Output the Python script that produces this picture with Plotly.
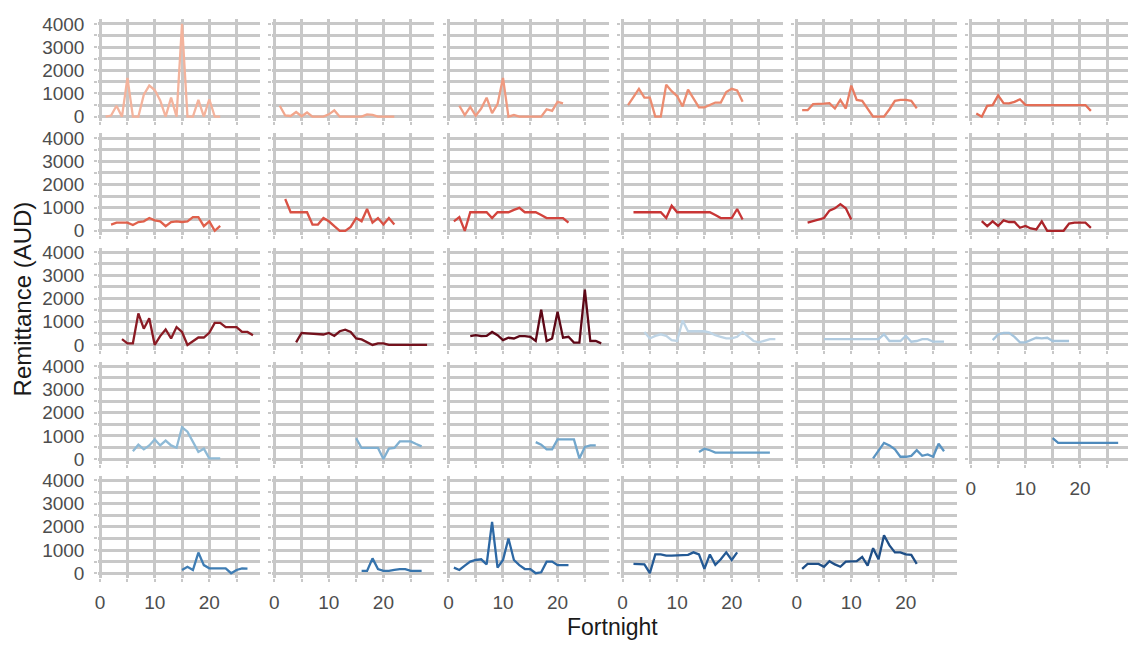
import plotly.graph_objects as go

W, H = 1128, 645

# First fortnight of each panel's series (values run over consecutive fortnights)
starts = [1, 1, 2, 1, 1, 1,
          2, 2, 1, 2, 2, 2,
          4, 4, 4, 4, 5, 4,
          6, 15, 16, 14, 14, 15,
          15, 16, 1, 2, 1]

r01 = [0, 50, 470, 0, 1670, 0, 0, 950, 1340, 1150, 700, 0, 820, 0, 4000, 0, 0, 720, 0, 750, 0, 0]
r02 = [470, 50, 30, 200, 20, 180, 0, 0, 0, 100, 270, 0, 0, 0, 0, 0, 100, 80, 0, 0, 0, 0]
r03 = [470, 70, 420, 40, 350, 820, 150, 540, 1670, 0, 70, 0, 0, 0, 0, 0, 320, 250, 640, 570]
r04 = [500, 860, 1200, 820, 820, 0, 0, 1380, 1100, 890, 440, 1170, 780, 400, 400, 500, 610, 610, 1060, 1200, 1130, 640]
r05 = [280, 280, 540, 540, 560, 580, 350, 720, 350, 1340, 720, 680, 330, 0, 0, 0, 320, 680, 720, 720, 680, 360]
r06 = [140, 0, 470, 500, 920, 580, 570, 640, 750, 510, 500, 500, 500, 500, 500, 500, 500, 500, 500, 500, 500, 250]
r07 = [270, 350, 350, 350, 250, 380, 410, 550, 450, 410, 200, 380, 410, 380, 410, 590, 590, 200, 410, 0, 210]
r08 = [1370, 800, 800, 800, 800, 270, 270, 550, 410, 200, 0, 0, 170, 550, 410, 940, 350, 550, 270, 550, 270]
r09 = [410, 590, 0, 800, 800, 800, 800, 550, 800, 800, 800, 900, 990, 800, 800, 800, 680, 550, 550, 550, 550, 350]
r10 = [800, 800, 800, 800, 800, 800, 550, 1080, 800, 800, 800, 800, 800, 800, 800, 680, 550, 550, 550, 940, 490]
r11 = [350, 420, 480, 550, 870, 970, 1150, 970, 490]
r12 = [420, 200, 410, 210, 450, 380, 380, 130, 210, 100, 60, 410, 0, 0, 0, 0, 310, 350, 350, 350, 130]
r13 = [250, 70, 70, 1360, 700, 1150, 0, 380, 670, 280, 770, 560, 0, 170, 320, 320, 520, 950, 950, 770, 770, 770, 560, 560, 420]
r14 = [110, 520, 500, 490, 470, 450, 520, 390, 590, 660, 560, 280, 240, 110, 0, 70, 70, 0, 0, 0, 0, 0, 0, 0, 0]
r15 = [380, 420, 380, 390, 560, 420, 210, 310, 280, 380, 380, 350, 170, 1520, 170, 280, 1430, 310, 350, 100, 100, 2390, 170, 170, 70]
r16 = [560, 280, 390, 460, 390, 210, 170, 1050, 590, 590, 590, 590, 530, 420, 350, 280, 280, 350, 560, 350, 170, 110, 170, 250, 250]
r17 = [250, 250, 250, 250, 250, 250, 250, 250, 250, 250, 250, 460, 170, 170, 170, 390, 140, 170, 250, 250, 140, 140, 140]
r18 = [210, 450, 520, 520, 350, 110, 110, 210, 310, 280, 310, 170, 170, 140, 170]
r19 = [340, 620, 420, 590, 850, 590, 800, 590, 490, 1370, 1180, 730, 310, 450, 30, 30, 30]
r20 = [900, 480, 480, 480, 480, 0, 450, 480, 760, 760, 760, 650, 550]
r21 = [730, 620, 420, 420, 850, 850, 850, 850, 30, 520, 590, 590]
r22 = [310, 450, 380, 280, 280, 280, 280, 280, 280, 280, 280, 280, 280, 280]
r23 = [30, 380, 700, 590, 420, 100, 100, 140, 380, 140, 200, 100, 660, 340]
r24 = [900, 700, 700, 700, 700, 700, 700, 700, 700, 700, 700, 700, 700]
r25 = [140, 280, 140, 890, 350, 210, 210, 210, 210, 0, 140, 210, 200]
r26 = [100, 100, 640, 180, 100, 100, 140, 180, 180, 100, 100, 100]
r27 = [240, 140, 330, 500, 570, 600, 380, 2210, 240, 570, 1500, 570, 350, 180, 180, 0, 40, 500, 500, 350, 350, 350]
r28 = [400, 400, 380, 0, 810, 810, 760, 760, 760, 790, 790, 900, 810, 190, 810, 360, 600, 900, 570, 900]
r29 = [190, 400, 400, 400, 280, 520, 380, 280, 500, 500, 520, 700, 330, 1080, 600, 1640, 1200, 900, 900, 810, 790, 400]

series = [r01, r02, r03, r04, r05, r06, r07, r08, r09, r10, r11, r12, r13, r14, r15,
          r16, r17, r18, r19, r20, r21, r22, r23, r24, r25, r26, r27, r28, r29]

colors = ["#f4b39c", "#f2a68c", "#ef9a80", "#ec8c70", "#e87d63", "#e46e56",
          "#e0614c", "#d95245", "#d3443d", "#c93636", "#bb2c2f", "#aa2429",
          "#8a1b24", "#74121d", "#5e0716",
          "#bed4e5", "#b0cbe0", "#a5c4dc", "#8fbad6", "#80b0d1", "#73a7cc",
          "#679fc8", "#5a94c2", "#4e8abc", "#3f7db4", "#3674ad", "#2d68a4",
          "#245a95", "#1f4f87"]

y_ticks = [0, 500, 1000, 1500, 2000, 2500, 3000, 3500, 4000]
y_labels = ["0", "", "1000", "", "2000", "", "3000", "", "4000"]
x_ticks = [0, 5, 10, 15, 20, 25]
x_labels = ["0", "", "10", "", "20", ""]

NCOL = 6
XMIN, XMAX = -0.35, 29.35
PW, PH = 162.5, 104.0
X0, XSTEP = 95.5, 174.6
Y0, YSTEP = 13.5, 116.3
GRID = "#c8c8c8"
TICKC = "#4d4d4d"
FONT = "Liberation Sans, Arial, sans-serif"

fig = go.Figure()
layout = dict(
    width=W, height=H,
    margin=dict(l=0, r=0, t=0, b=0),
    paper_bgcolor="white", plot_bgcolor="white",
    showlegend=False,
    font=dict(family=FONT, color=TICKC),
)

n = len(series)
for i, vals in enumerate(series):
    r, c = divmod(i, NCOL)
    k = "" if i == 0 else str(i + 1)
    xs = list(range(starts[i], starts[i] + len(vals)))
    fig.add_trace(go.Scatter(x=xs, y=vals, mode="lines",
                             line=dict(color=colors[i], width=2.3),
                             xaxis="x" + k, yaxis="y" + k, hoverinfo="skip"))
    left = X0 + XSTEP * c
    right = min(left + PW, W)
    xmax = XMIN + (right - left) / PW * (XMAX - XMIN)
    top = Y0 + YSTEP * r
    below_empty = (i + NCOL) >= n
    layout["xaxis" + k] = dict(
        domain=[left / W, right / W], anchor="y" + k,
        range=[XMIN, xmax], tickvals=x_ticks, ticktext=x_labels,
        showticklabels=below_empty, showgrid=True, gridcolor=GRID, gridwidth=2.5,
        zeroline=False, showline=False,
        ticks="outside", ticklen=3, tickwidth=2, tickcolor=GRID,
        tickfont=dict(size=19, color=TICKC, family=FONT),
        ticklabelstandoff=4,
        fixedrange=True,
    )
    layout["yaxis" + k] = dict(
        domain=[1 - (top + PH) / H, 1 - top / H], anchor="x" + k,
        range=[-200, 4200], tickvals=y_ticks, ticktext=y_labels,
        showticklabels=(c == 0), showgrid=True, gridcolor=GRID, gridwidth=2.5,
        zeroline=False, showline=False,
        ticks="outside", ticklen=3, tickwidth=2, tickcolor=GRID,
        tickfont=dict(size=19, color=TICKC, family=FONT),
        ticklabelstandoff=6,
        fixedrange=True,
    )

layout["annotations"] = [
    dict(text="Fortnight", x=611 / W, y=1 - 633 / H, xref="paper", yref="paper",
         showarrow=False, font=dict(size=23, color="#1a1a1a", family=FONT),
         xanchor="center", yanchor="middle"),
    dict(text="Remittance (AUD)", x=20 / W, y=1 - 298 / H, xref="paper", yref="paper",
         showarrow=False, textangle=-90, font=dict(size=24, color="#1a1a1a", family=FONT),
         xanchor="center", yanchor="middle"),
]

fig.update_layout(**layout)
fig.write_html("out.html")
